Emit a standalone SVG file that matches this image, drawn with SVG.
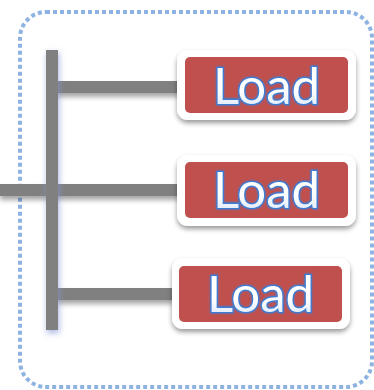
<svg xmlns="http://www.w3.org/2000/svg" width="374" height="390" viewBox="0 0 374 390">
<defs>
<filter id="lshadow" x="-10%" y="-50%" width="120%" height="250%">
<feGaussianBlur in="SourceAlpha" stdDeviation="2.5"/>
<feOffset dy="4" result="b"/>
<feFlood flood-color="#000" flood-opacity="0.35"/>
<feComposite in2="b" operator="in"/>
<feMerge><feMergeNode/><feMergeNode in="SourceGraphic"/></feMerge>
</filter>
<filter id="glow" x="-150%" y="-10%" width="400%" height="120%">
<feGaussianBlur in="SourceAlpha" stdDeviation="3"/>
<feOffset dx="1" dy="3" result="b"/>
<feFlood flood-color="#8096d8" flood-opacity="0.7"/>
<feComposite in2="b" operator="in"/>
<feMerge><feMergeNode/><feMergeNode in="SourceGraphic"/></feMerge>
</filter>
<filter id="bshadow" x="-10%" y="-20%" width="120%" height="150%">
<feGaussianBlur in="SourceAlpha" stdDeviation="2.5"/>
<feOffset dy="3" result="b"/>
<feFlood flood-color="#000" flood-opacity="0.4"/>
<feComposite in2="b" operator="in"/>
<feMerge><feMergeNode/><feMergeNode in="SourceGraphic"/></feMerge>
</filter>
<filter id="tglow" x="-10%" y="-20%" width="120%" height="140%">
<feGaussianBlur in="SourceAlpha" stdDeviation="1.2" result="b"/>
<feFlood flood-color="#3b7fd8" flood-opacity="0.9"/>
<feComposite in2="b" operator="in"/>
<feMerge><feMergeNode/><feMergeNode in="SourceGraphic"/></feMerge>
</filter>
<linearGradient id="tg" x1="0" y1="0" x2="0" y2="1">
<stop offset="0" stop-color="#ffffff"/>
<stop offset="0.6" stop-color="#ffffff"/>
<stop offset="1" stop-color="#cfe0f7"/>
</linearGradient>
</defs>
<style>
.frame{fill:none;stroke:#8db3e2;stroke-width:4;stroke-dasharray:4 3}
.line{fill:#808080}
.outer{fill:#ffffff}
.inner{fill:#c0504d}
.lbl{font-family:Lato,"Open Sans","Liberation Sans",sans-serif;font-size:51px;font-weight:normal;fill:url(#tg);stroke:#3c7bd4;stroke-width:2.6;paint-order:stroke;text-anchor:middle}
</style>
<rect class="frame" x="20" y="12" width="352" height="375" rx="26"/>
<g id="connectors">
<rect class="line" x="0" y="184" width="180" height="12" filter="url(#lshadow)"/>
<rect class="line" x="56" y="81" width="124" height="12" filter="url(#lshadow)"/>
<rect class="line" x="56" y="288" width="118" height="12" filter="url(#lshadow)"/>
<rect class="line" x="46" y="50" width="12" height="280" filter="url(#glow)"/>
</g>
<g id="load1">
<rect class="outer" x="177" y="50" width="179" height="70" rx="11" filter="url(#bshadow)"/>
<rect class="inner" x="185" y="57" width="163" height="56" rx="5"/>
<text class="lbl" x="266.5" y="104" filter="url(#tglow)">Load</text>
</g>
<g id="load2">
<rect class="outer" x="177" y="155" width="179" height="71" rx="11" filter="url(#bshadow)"/>
<rect class="inner" x="185" y="162" width="163" height="56" rx="5"/>
<text class="lbl" x="266.5" y="208" filter="url(#tglow)">Load</text>
</g>
<g id="load3">
<rect class="outer" x="172" y="258" width="178" height="71" rx="11" filter="url(#bshadow)"/>
<rect class="inner" x="179" y="266" width="163" height="56" rx="5"/>
<text class="lbl" x="260.5" y="312" filter="url(#tglow)">Load</text>
</g>
</svg>
